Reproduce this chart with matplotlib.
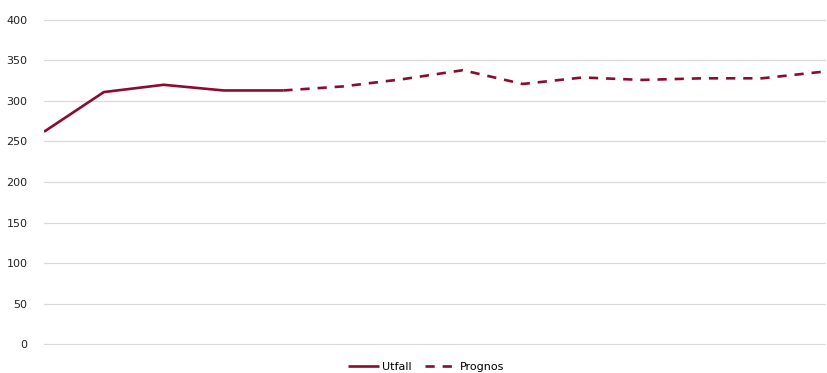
import matplotlib.pyplot as plt

# data
utfall_x = [0, 1, 2, 3, 4]
utfall = [262, 311, 320, 313, 313]
prognos_x = [4, 5, 6, 7, 8, 9, 10, 11, 12, 13]
prognos = [313, 318, 327, 338, 321, 329, 326, 328, 328, 336]
yticks = [0, 50, 100, 150, 200, 250, 300, 350, 400]

color = '#8a0c2f'

fig = plt.figure(figsize=(8.27, 3.73), dpi=100)
ax = fig.add_axes([44 / 827, 1 - 345 / 373, (826 - 44) / 827, (345 - 19) / 373])

ax.plot(utfall_x, utfall, '-', color=color, linewidth=1.9, label='Utfall',
        solid_capstyle='butt')
ax.plot(prognos_x, prognos, '--', color=color, linewidth=1.9, label='Prognos',
        dashes=(3.5, 3))

ax.set_ylim(-1.2, 401.2)
ax.set_xlim(0, 13.07)
ax.set_yticks(yticks)
ax.set_xticks([])
ax.grid(True, axis='y', color='#d9d9d9', linewidth=0.9)
ax.set_axisbelow(True)
for s in ax.spines.values():
    s.set_visible(False)
ax.tick_params(axis='y', length=0, pad=12, labelsize=8, labelcolor='#222222')

fig.legend(loc='lower center', bbox_to_anchor=(0.515, -0.025), ncol=2,
           frameon=False, fontsize=8, handlelength=2.8, handletextpad=0.3,
           columnspacing=1.2)

fig.savefig('out.png', dpi=100)
